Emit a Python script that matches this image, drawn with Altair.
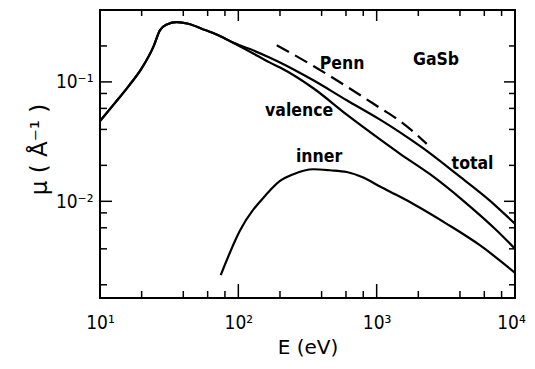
import altair as alt
import pandas as pd

# ---- data (E in eV, mu in 1/Angstrom) ----
E_common = [10, 12.8, 16.0, 20.0, 24.3, 27.1, 30.4, 35.9, 43.5, 54.3, 71.6, 89.5]
mu_common = [0.047, 0.0664, 0.0914, 0.1297, 0.1965, 0.270, 0.303, 0.317, 0.307, 0.279, 0.246, 0.216]

E_total_hi = [121.5, 169.4, 200.2, 348.5, 608, 1058, 1476, 2176, 3793, 6607, 10000]
mu_total_hi = [0.1883, 0.1594, 0.1454, 0.1031, 0.0702, 0.0483, 0.0378, 0.0277, 0.01687, 0.0101, 0.00648]

E_val_hi = [121.5, 169.4, 200.2, 348.5, 608, 1058, 1476, 2431, 4236, 7380, 10000]
mu_val_hi = [0.179, 0.145, 0.132, 0.0885, 0.0532, 0.0330, 0.0250, 0.01687, 0.0101, 0.0057, 0.00401]

E_inner = [74.6, 102.8, 160.3, 200.2, 250, 348.5, 460, 608, 801, 1058, 1476, 1841, 3212, 5600, 10000]
mu_inner = [0.00241, 0.0057, 0.0115, 0.0148, 0.01687, 0.01855, 0.0182, 0.0176, 0.0158, 0.0133,
            0.0109, 0.0095, 0.00648, 0.00427, 0.00252]

E_penn = [189.6, 348.5, 608, 1058, 1476, 2301]
mu_penn = [0.203, 0.136, 0.0914, 0.0604, 0.0470, 0.0303]

label_text = ["Penn", "GaSb", "valence", "inner", "total"]
label_E = [562, 2688, 275, 383, 4932]
label_mu = [0.142, 0.153, 0.0566, 0.0235, 0.0206]

x_major = [100, 1000]
x_minor = [20, 40, 60, 80, 200, 400, 600, 800, 2000, 4000, 6000, 8000]
y_major = [0.01, 0.1]
y_minor = [0.002, 0.004, 0.006, 0.008, 0.02, 0.04, 0.06, 0.08, 0.2]

x_label_values = [10, 100, 1000, 10000]
y_label_values = [0.01, 0.1]

# ---- build ----
W, H = 415, 288
NUM_FONT = "DejaVu Sans Condensed, DejaVu Sans, sans-serif"
LBL_FONT = "DejaVu Sans Condensed, DejaVu Sans, sans-serif"
TTL_FONT = "DejaVu Sans, sans-serif"

xscale = alt.Scale(type="log", domain=[10, 10000], nice=False)
yscale = alt.Scale(type="log", domain=[0.00155, 0.4], nice=False)

x_axis = alt.Axis(values=x_label_values, ticks=False, domain=False, grid=False,
                  labelExpr="'10' + (datum.value < 50 ? '\u00b9' : datum.value < 500 ? '\u00b2' : datum.value < 5000 ? '\u00b3' : '\u2074')",
                  labelFont=NUM_FONT, labelFontSize=19, labelColor="black", labelPadding=15,
                  labelOffset={"condition": {"test": "datum.value > 5000", "value": -4}, "value": 0},
                  labelFlush=False, labelOverlap=False, labelBound=False,
                  title="E (eV)", titleFont=TTL_FONT, titleFontSize=20,
                  titleFontWeight="normal", titleColor="black", titlePadding=5)
y_axis = alt.Axis(values=y_label_values, ticks=False, domain=False, grid=False,
                  labelExpr="'10\u207b' + (datum.value > 0.05 ? '\u00b9' : '\u00b2')",
                  labelFont=NUM_FONT, labelFontSize=19, labelColor="black", labelPadding=7,
                  labelFlush=False, labelOverlap=False, labelBound=False,
                  title="\u03bc ( \u00c5\u207b\u00b9 )", titleFont=TTL_FONT, titleFontSize=23,
                  titleFontWeight="normal", titleColor="black", titlePadding=4, titleY=139)

X = alt.X("E:Q", scale=xscale, axis=x_axis)
Y = alt.Y("mu:Q", scale=yscale, axis=y_axis)

total_df = pd.DataFrame({"E": E_common + E_total_hi, "mu": mu_common + mu_total_hi})
val_df = pd.DataFrame({"E": E_common + E_val_hi, "mu": mu_common + mu_val_hi})
inner_df = pd.DataFrame({"E": E_inner, "mu": mu_inner})
penn_df = pd.DataFrame({"E": E_penn, "mu": mu_penn})
lab_df = pd.DataFrame({"E": label_E, "mu": label_mu, "t": label_text})

def curve(df, dash=None):
    kw = dict(color="black", strokeWidth=2.2, interpolate="monotone")
    if dash:
        kw["strokeDash"] = dash
    return alt.Chart(df).mark_line(**kw).encode(x=X, y=Y)

layers = [
    curve(total_df),
    curve(val_df),
    curve(inner_df),
    curve(penn_df, dash=[14, 7]),
    alt.Chart(lab_df).mark_text(font=LBL_FONT, fontWeight="bold", fontSize=17.5, color="black",
                                align="center", baseline="middle").encode(x=X, y=Y, text="t:N"),
]

xmin_df = pd.DataFrame({"E": x_minor})
xmaj_df = pd.DataFrame({"E": x_major})
ymin_df = pd.DataFrame({"mu": y_minor})
ymaj_df = pd.DataFrame({"mu": y_major})

def xticks(df, y0, y1):
    return alt.Chart(df).mark_rule(color="black", strokeWidth=1.5).encode(
        x=X, y=alt.value(y0), y2=alt.value(y1))

def yticks(df, x0, x1):
    return alt.Chart(df).mark_rule(color="black", strokeWidth=1.5).encode(
        y=Y, x=alt.value(x0), x2=alt.value(x1))

layers += [
    xticks(xmin_df, H, H - 7), xticks(xmaj_df, H, H - 14),
    xticks(xmin_df, 0, 6), xticks(xmaj_df, 0, 11),
    yticks(ymin_df, 0, 7), yticks(ymaj_df, 0, 12),
    yticks(ymin_df, W, W - 6), yticks(ymaj_df, W, W - 11),
]

chart = alt.layer(*layers).properties(
    width=W, height=H,
    autosize=alt.AutoSizeParams(type="none"),
    padding={"left": 92, "top": 2, "right": 12, "bottom": 63},
    background="white",
).configure_view(stroke="black", strokeWidth=2)

chart.save("out.html", embed_options={"renderer": "svg", "actions": False})
